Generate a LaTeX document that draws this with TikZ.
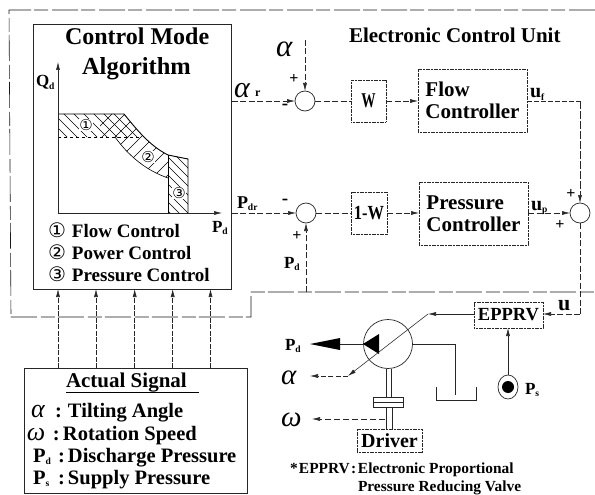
\documentclass[tikz,border=0pt]{standalone}
\usepackage{graphicx}
\usepackage{fontspec}
\setmainfont{Liberation Serif}
\newfontfamily\dejavu{DejaVu Sans}
\usetikzlibrary{arrows.meta,shapes.geometric}
\newcommand{\fs}[1]{\fontsize{#1}{#1}\selectfont\bfseries}
\newcommand{\lowsub}[1]{\raisebox{-0.12em}{\fontsize{9.5}{10}\selectfont\bfseries #1}}
\newcommand{\galpha}[1]{{\fontsize{#1}{#1}\selectfont\normalfont\itshape α}}
\newcommand{\gomega}[1]{{\fontsize{#1}{#1}\selectfont\normalfont\itshape ω}}
\newcommand{\cnum}[2]{{\dejavu\mdseries\fontsize{#1}{#1}\selectfont #2}}
\newcommand{\legend}[2]{\makebox[24pt][l]{\raisebox{-0.8pt}{\cnum{20}{#1}}}#2}
\tikzset{
  x=1pt,y=-1pt,
  every node/.style={inner sep=0pt,outer sep=0pt},
  wire/.style={line width=0.55pt,black!85},
  dwire/.style={wire,dash pattern=on 6pt off 2.5pt},
  border/.style={line width=0.6pt,black!90,dash pattern=on 26pt off 4pt on 14pt off 3pt},
  tip/.style={-{Latex[length=8pt,width=4pt]}},
  dbox/.style={draw=black!85,line width=0.7pt,dash pattern=on 1.2pt off 0.4pt,rectangle,align=center},
  solidbox/.style={draw=black!85,line width=0.8pt,rectangle},
  sumc/.style={draw=black!85,line width=0.7pt,circle,minimum size=20pt},
  lab/.style={anchor=base west},
  hatch/.style={line width=0.5pt,black}
}
\begin{document}
\begin{tikzpicture}
\useasboundingbox (0,0) rectangle (595,495);
\fill[white] (0,0) rectangle (595,495);

% ECU border
\coordinate (bTR) at (595,10);
\coordinate (bTL) at (9,10);
\coordinate (bBL) at (11,317);
\coordinate (bB1) at (251,317);
\coordinate (bB2) at (251,292);
\coordinate (bBR) at (595,292);
\draw[border] (bTR) -- (bTL) -- (bBL) -- (bB1) -- (bB2) -- (bBR);

% main boxes
\node[solidbox,minimum width=198pt,minimum height=265pt] (algo) at (132.5,156.5) {};
\node[lab,font=\fs{24}] (t1) at (65,45) {Control Mode};
\node[lab,font=\fs{24.5}] (t2) at (82,75) {Algorithm};
\node[anchor=base west,font=\fs{21}] (ecu) at (349,43) {Electronic Control Unit};

% hatching
\def\outline{(58,114) -- (124,114) .. controls (137,130) and (150,146) .. (168,155) -- (168,178) .. controls (145,170) and (128,155) .. (115,137) -- (58,137) -- cycle}
\begin{scope}
\clip (58,114) rectangle (168,137);
\clip \outline;
\foreach \i in {-100,-90,...,260} \draw[hatch] (\i,100) -- ++(100,100);
\end{scope}
\begin{scope}
\clip (100,110) rectangle (170,180);
\clip \outline;
\foreach \i in {100,113,...,400} \draw[hatch] (\i,100) -- ++(-100,100);
\end{scope}
\begin{scope}
\clip (168,155) -- (188,159) -- (188,213) -- (168,213) -- cycle;
\foreach \i in {60,69,...,200} \draw[hatch] (\i,130) -- ++(100,100);
\end{scope}
\begin{scope}
\clip (168,155) -- (188,159) -- (188,185) -- (168,178) -- cycle;
\foreach \i in {290,299,...,400} \draw[hatch] (\i,100) -- ++(-100,100);
\end{scope}
\draw[line width=0.9pt] (58,114) -- (124,114) .. controls (137,130) and (150,146) .. (168,155) -- (188,159) -- (188,213);
\draw[line width=0.6pt] (168,155) -- (168,213);
\draw[line width=0.6pt] (115,137) .. controls (128,155) and (145,170) .. (168,178);
\draw[line width=0.7pt,dashed] (58,137) -- (140,137);

% axes
\coordinate (o) at (58,213);
\coordinate (qtop) at (58,62);
\coordinate (ptop) at (222,213);
\draw[wire,tip] (o) -- (qtop);
\draw[wire,tip] (o) -- (ptop);
\node[lab,font=\fs{17}] (qd) at (36,87) {Q\lowsub{d}};
\node[lab,font=\fs{17}] (pd1) at (212,232) {P\lowsub{d}};

\node[fill=white] (n1) at (86,125) {\cnum{15}{①}};
\node[fill=white] (n2) at (148,157) {\cnum{15}{②}};
\node[fill=white] (n3) at (179,193) {\cnum{15}{③}};

% legend
\node[lab,font=\fs{19}] (l1) at (48,237) {\legend{①}{Flow Control}};
\node[lab,font=\fs{19}] (l2) at (48,259) {\legend{②}{Power Control}};
\node[lab,font=\fs{19}] (l3) at (48,281) {\legend{③}{Pressure Control}};

% control row nodes
\node[sumc] (s1) at (305,101) {};
\node[sumc] (s2) at (306,213) {};
\node[sumc] (s3) at (580,213) {};
\node[dbox,minimum width=35pt,minimum height=42pt,font=\fs{21}] (w) at (368.5,101) {\scalebox{.68}[1]{W}};
\node[dbox,minimum width=36pt,minimum height=42pt,font=\fs{20}] (ow) at (369,213) {\scalebox{.82}[1]{1-W}};
\node[dbox,minimum width=109pt,minimum height=63pt,font=\fs{21},align=left] (fc) at (472.5,100.5) {Flow\\[1pt]Controller};
\node[dbox,minimum width=109pt,minimum height=63pt,font=\fs{21},align=left] (pc) at (473.5,213.5) {Pressure\\[1pt]Controller};

\draw[dwire,tip] (algo.east |- s1) -- (s1);
\draw[dwire,tip] (algo.east |- s2) -- (s2);
\draw[dwire] (s1) -- (w);
\draw[dwire] (s2) -- (ow);
\draw[dwire,tip] (w) -- (fc.west |- w);
\draw[dwire,tip] (ow) -- (pc.west |- ow);

\node[lab] (ar) at (234,98) {\galpha{30}};
\node[lab,font=\fs{12}] (ars) at (255,97) {r};
\node[lab,font=\fs{18}] (pdr) at (237,208) {P\lowsub{dr}};
\node[lab] (a1) at (276,57) {\galpha{31}};
\coordinate (a1s) at (305,40);
\draw[dwire,tip] (a1s) -- (s1);
\node[font=\fs{16}] (pl1) at (294,79) {+};
\node[font=\fs{19}] (mi1) at (285,107) {-};
\node[font=\fs{19}] (mi2) at (285,202) {-};
\node[font=\fs{16}] (pl2) at (297,236) {+};
\node[lab,font=\fs{17}] (pd2) at (284,268) {P\lowsub{d}};
\coordinate (pd2s) at (306,292);
\draw[dwire,tip] (pd2s) -- (s2);

\node[lab,font=\fs{20}] (uf) at (530,98) {u\lowsub{f}};
\node[lab,font=\fs{20}] (up) at (531,210) {u\lowsub{p}};
\coordinate (c1) at (580,101);
\draw[wire,dash pattern=on 5pt off 2pt] (fc.east |- c1) -- (c1);
\draw[wire,dash pattern=on 8pt off 2pt,tip] (c1) -- (s3);
\draw[dwire,tip] (pc.east |- s3) -- (s3);
\node[font=\fs{16}] (pl3) at (571,194) {+};
\node[font=\fs{16}] (pl4) at (560,225) {+};

% EPPRV
\node[dbox,minimum width=69pt,minimum height=26pt,font=\fs{18.5}] (ep) at (508.5,315) {EPPRV};
\coordinate (c2) at (580,314);
\draw[dwire] (s3) -- (c2);
\draw[dwire,tip] (c2) -- (ep.east |- c2);
\node[lab,font=\fs{22}] (u) at (558,310) {u};

% Pump
\node[draw=black!85,line width=0.7pt,circle,minimum size=49pt] (pump) at (388,344) {};
\fill (363,344) -- (379,334) -- (379,354) -- cycle;
\coordinate (pdt) at (310,344);
\coordinate (pdb) at (340,344);
\draw[wire] (pump.west) -- (pdb);
\fill (pdt) -- (340,338) -- (340,350) -- cycle;
\node[lab,font=\fs{17}] (pd3) at (285,350) {P\lowsub{d}};
\coordinate (dg) at (428,314);
\coordinate (de) at (348,376);
\draw[wire,tip] (ep.west |- dg) -- (dg);
\draw[wire,tip] (dg) -- (de);
\node[lab] (a2) at (281,384) {\galpha{29}};
\coordinate (a2t) at (310,376);
\draw[wire,dash pattern=on 5pt off 2.5pt,tip] (de) -- (a2t);

% tank
\coordinate (tk1) at (455,344);
\coordinate (tk2) at (455,395);
\draw[wire] (pump.east) -- (tk1) -- (tk2);
\draw[line width=0.7pt,black!85] (436,387) -- (436,400) -- (476,400) -- (476,387);

% shaft
\node[draw=black!85,line width=0.6pt,minimum width=30pt,minimum height=10pt] (cp) at (388,402) {};
\node[dbox,minimum width=65pt,minimum height=23pt,font=\fs{20}] (dr) at (389.5,441) {Driver};
\draw[wire] (cp.west) -- (cp.east);
\draw[wire] (386,369) -- (386,397) (391.5,369) -- (391.5,397);
\draw[wire] (386,407) -- (386,429.5) (392,407) -- (392,429.5);
\coordinate (wstart) at (385,419);
\coordinate (wend) at (312,419);
\draw[wire,dash pattern=on 6pt off 3pt,tip] (wstart) -- (wend);
\node[lab] (w2) at (281,426) {\gomega{29}};

% Ps
\node[draw=black!85,line width=0.7pt,ellipse,minimum width=20pt,minimum height=24pt] (ps) at (508,387) {};
\fill (508,387) circle (6);
\draw[wire,tip] (ps) -- (ps |- ep.south);
\node[lab,font=\fs{17}] (pst) at (525,394) {P\lowsub{s}};

% note
\node[lab,font=\fs{15.4}] (nt1) at (290,473) {\makebox[9pt][l]{*}\makebox[52pt][l]{EPPRV}\makebox[7pt][l]{:}Electronic Proportional};
\node[lab,font=\fs{15.4}] (nt2) at (358,491) {Pressure Reducing Valve};

% Actual signal box
\node[solidbox,minimum width=223pt,minimum height=125pt] (as) at (135.5,430.5) {};
\node[lab,font=\fs{21}] (ast) at (66,387) {Actual Signal};
\draw[line width=0.7pt] (ast.base west) ++(0,5) -- ++(133,0);
\node[lab,font=\fs{20.5}] (s1t) at (31,417) {\makebox[24pt][l]{\galpha{26}}\makebox[13pt][l]{:}Tilting Angle};
\node[lab,font=\fs{20.5}] (s2t) at (27,440) {\makebox[26pt][l]{\gomega{26}}\makebox[10pt][l]{:}Rotation Speed};
\node[lab,font=\fs{20.5}] (s3t) at (33,462) {\makebox[25pt][l]{P\lowsub{d}}\makebox[10pt][l]{:}Discharge Pressure};
\node[lab,font=\fs{20.5}] (s4t) at (33,484) {\makebox[25pt][l]{P\lowsub{s}}\makebox[10pt][l]{:}Supply Pressure};
\foreach \x in {58,96,134.7,172.7,210.5}
  \draw[wire,dash pattern=on 5pt off 1.5pt,tip] (as.north -| \x,0) -- (algo.south -| \x,0);
\end{tikzpicture}
\end{document}
